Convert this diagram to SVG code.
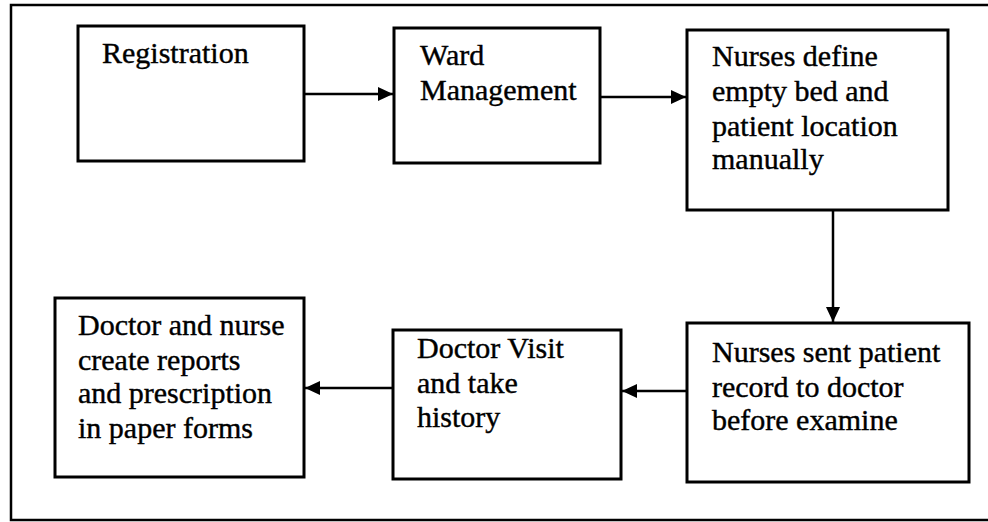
<svg xmlns="http://www.w3.org/2000/svg" width="988" height="522" viewBox="0 0 988 522">
  <style>
    .box { fill: #ffffff; stroke: #000000; stroke-width: 3; }
    .frame { fill: none; stroke: #000000; stroke-width: 2.5; }
    .lbl { font-family: "Liberation Serif", "Times New Roman", serif; font-size: 30px; fill: #000000; stroke: #000000; stroke-width: 0.4; }
    .conn { stroke: #000000; stroke-width: 2.5; fill: none; marker-end: url(#arrow); }
  </style>
  <defs>
    <marker id="arrow" markerUnits="userSpaceOnUse" markerWidth="16" markerHeight="16" viewBox="0 0 16 16" refX="15" refY="8" orient="auto">
      <path d="M0,1 L15,8 L0,15 Z" fill="#000000"/>
    </marker>
  </defs>
  <rect width="988" height="522" fill="#ffffff"/>
  <rect id="frame" class="frame" x="11" y="5" width="1000" height="515"/>

  <g id="node-registration">
    <rect class="box" x="78" y="26" width="226" height="135"/>
    <text class="lbl" x="102" y="63">Registration</text>
  </g>
  <g id="node-ward">
    <rect class="box" x="394" y="28" width="206" height="135"/>
    <text class="lbl" x="420" y="65">Ward</text>
    <text class="lbl" x="420" y="100">Management</text>
  </g>
  <g id="node-nurses-define">
    <rect class="box" x="687" y="30" width="261" height="180"/>
    <text class="lbl" x="712" y="66">Nurses define</text>
    <text class="lbl" x="712" y="101">empty bed and</text>
    <text class="lbl" x="712" y="136">patient location</text>
    <text class="lbl" x="712" y="169">manually</text>
  </g>
  <g id="node-nurses-sent">
    <rect class="box" x="687" y="323" width="282" height="159"/>
    <text class="lbl" x="712" y="362">Nurses sent patient</text>
    <text class="lbl" x="712" y="397">record to doctor</text>
    <text class="lbl" x="712" y="430">before examine</text>
  </g>
  <g id="node-doctor-visit">
    <rect class="box" x="393" y="330" width="228" height="149"/>
    <text class="lbl" x="417" y="358">Doctor Visit</text>
    <text class="lbl" x="417" y="393">and take</text>
    <text class="lbl" x="417" y="427">history</text>
  </g>
  <g id="node-reports">
    <rect class="box" x="55" y="298" width="249" height="179"/>
    <text class="lbl" x="78" y="335">Doctor and nurse</text>
    <text class="lbl" x="78" y="370">create reports</text>
    <text class="lbl" x="78" y="403">and prescription</text>
    <text class="lbl" x="78" y="438">in paper forms</text>
  </g>

  <g id="connectors">
    <line class="conn" x1="304" y1="94" x2="393" y2="94"/>
    <line class="conn" x1="600" y1="97" x2="686" y2="97"/>
    <line class="conn" x1="833" y1="210" x2="833" y2="322"/>
    <line class="conn" x1="687" y1="391" x2="622" y2="391"/>
    <line class="conn" x1="393" y1="388" x2="305" y2="388"/>
  </g>
</svg>
